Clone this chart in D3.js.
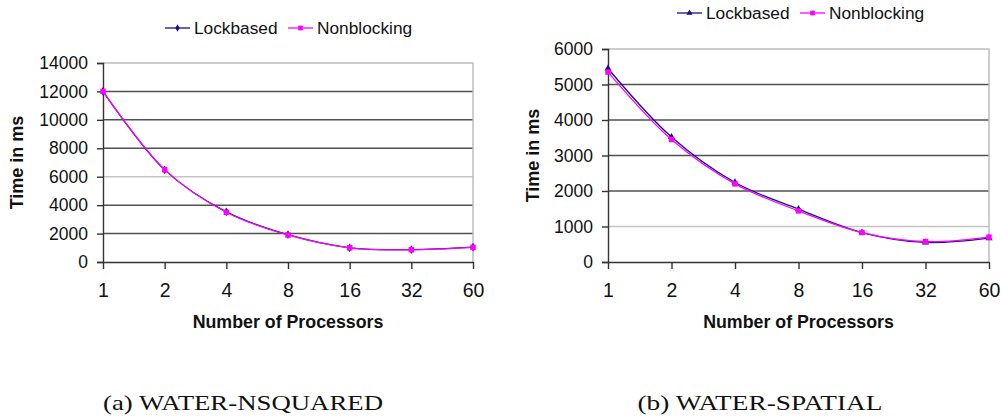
<!DOCTYPE html>
<html>
<head>
<meta charset="utf-8">
<script src="https://cdn.jsdelivr.net/npm/d3@7"></script>
<style>
  body { margin: 0; background: #fff; }
</style>
</head>
<body>
<svg id="fig" width="1002" height="418" font-family="Arial, 'Liberation Sans', sans-serif"></svg>
<script>
// processors (categories on the x axis)
const procs = ['1', '2', '4', '8', '16', '32', '60']

// (a) WATER-NSQUARED
const nsqLock = [12000, 6480, 3530, 1920, 1000, 870, 1040]
const nsqNonblock = [12000, 6500, 3500, 1900, 1000, 860, 1030]
const nsqTicks = [0, 2000, 4000, 6000, 8000, 10000, 12000, 14000]

// (b) WATER-SPATIAL
const spLock = [5450, 3520, 2240, 1490, 830, 550, 670]
const spNonblock = [5350, 3450, 2200, 1440, 830, 575, 700]
const spTicks = [0, 1000, 2000, 3000, 4000, 5000, 6000]

const seriesNames = ['Lockbased', 'Nonblocking']
const lockColor = '#10108a'
const nonColor = '#ff00ff'
const sans = 'Arial, "Liberation Sans", sans-serif'

let svg = d3.select('#fig')

let panel = function(opt) {
    let g = svg.append('g')
    let x = d3.scalePoint().domain(procs).range([opt.left, opt.right])
    let y = d3.scaleLinear().domain([0, opt.max]).range([opt.bottom, opt.top])

    // gridlines (some come out pale in the scan)
    g.append('g').selectAll('line')
        .data(opt.ticks.filter(d => d > 0 && d < opt.max))
        .join('line')
        .attr('x1', opt.left).attr('x2', opt.right)
        .attr('y1', d => y(d)).attr('y2', d => y(d))
        .attr('stroke', d => opt.light.includes(d) ? '#c4c4c4' : '#505050')
        .attr('stroke-width', 1.5)

    // frame top and right
    g.append('path')
        .attr('d', 'M' + opt.left + ',' + y(opt.max) + 'H' + opt.right + 'V' + opt.bottom)
        .attr('fill', 'none').attr('stroke', '#bdbdbd').attr('stroke-width', 1.5)

    // y axis
    let ya = g.append('g')
        .attr('transform', 'translate(' + opt.left + ',0)')
        .call(d3.axisLeft(y).tickValues(opt.ticks).tickSize(6).tickPadding(9).tickFormat(d3.format('d')))
    ya.select('.domain').attr('stroke', '#333').attr('stroke-width', 1.4)
    ya.selectAll('.tick line').attr('stroke', '#333').attr('stroke-width', 1.4)
    ya.selectAll('.tick text').attr('font-size', 17.5).attr('fill', '#111')
        .attr('font-family', sans)

    // x axis
    let xa = g.append('g')
        .attr('transform', 'translate(0,' + opt.bottom + ')')
        .call(d3.axisBottom(x).tickSize(7).tickPadding(14).tickSizeOuter(0))
    xa.select('.domain').attr('stroke', '#333').attr('stroke-width', 1.4)
    xa.selectAll('.tick line').attr('stroke', '#333').attr('stroke-width', 1.4)
    xa.selectAll('.tick text').attr('font-size', 19.5).attr('fill', '#111')
        .attr('font-family', sans)

    // axis titles
    g.append('text')
        .attr('transform', 'translate(' + opt.ylabX + ',' + ((opt.top + opt.bottom) / 2) + ') rotate(-90)')
        .attr('text-anchor', 'middle')
        .attr('font-size', 18).attr('font-weight', 'bold').attr('fill', '#111')
        .text('Time in ms')
    g.append('text')
        .attr('x', (opt.left + opt.right) / 2).attr('y', 328)
        .attr('text-anchor', 'middle')
        .attr('font-size', 17.8).attr('font-weight', 'bold').attr('fill', '#111')
        .text('Number of Processors')

    let line = d3.line()
        .x((d, i) => x(procs[i]))
        .y(d => y(d))
        .curve(d3.curveCatmullRom.alpha(0.5))

    let drawSeries = function(vals, color, shape) {
        let s = g.append('g')
        s.append('path').datum(vals)
            .attr('d', line)
            .attr('fill', 'none').attr('stroke', color).attr('stroke-width', 1.3)
        s.selectAll('path.mk').data(vals).join('path')
            .attr('class', 'mk')
            .attr('transform', (d, i) => 'translate(' + x(procs[i]) + ',' + y(d) + ')')
            .attr('d', d3.symbol().type(shape).size(shape === d3.symbolSquare ? 30 : 22))
            .attr('fill', color)
    }
    drawSeries(opt.lock, lockColor, opt.lockShape)
    drawSeries(opt.non, nonColor, d3.symbolSquare)

    // legend
    let lg = g.append('g').attr('transform', 'translate(' + opt.legX + ',' + opt.legY + ')')
    let items = [
        {name: seriesNames[0], color: lockColor, shape: opt.lockShape, w: 0},
        {name: seriesNames[1], color: nonColor, shape: d3.symbolSquare, w: opt.legGap}
    ]
    items.forEach(function(it) {
        let e = lg.append('g').attr('transform', 'translate(' + it.w + ',0)')
        e.append('line').attr('x1', 0).attr('x2', 25).attr('y1', 0).attr('y2', 0)
            .attr('stroke', it.color).attr('stroke-width', 1.3)
        e.append('path').attr('transform', 'translate(12.5,0)')
            .attr('d', d3.symbol().type(it.shape).size(it.shape === d3.symbolSquare ? 22 : 16))
            .attr('fill', it.color)
        e.append('text').attr('x', 29).attr('y', 6.3)
            .attr('font-size', 17.3).attr('fill', '#111')
            .text(it.name)
    })

    // caption
    svg.append('text')
        .attr('x', opt.capX).attr('y', 410)
        .attr('text-anchor', 'middle')
        .attr('font-family', '"Liberation Serif", "DejaVu Serif", serif')
        .attr('font-size', 21).attr('fill', '#111')
        .attr('textLength', opt.capW).attr('lengthAdjust', 'spacingAndGlyphs')
        .text(opt.caption)
}

panel({
    left: 103, right: 473, top: 63, bottom: 262, max: 14000,
    ticks: nsqTicks, light: [6000],
    lock: nsqLock, non: nsqNonblock, lockShape: d3.symbolDiamond,
    ylabX: 23, legX: 165, legY: 28, legGap: 123,
    capX: 243, capW: 280, caption: '(a) WATER-NSQUARED'
})

panel({
    left: 608, right: 989, top: 49, bottom: 262, max: 6000,
    ticks: spTicks, light: [1000],
    lock: spLock, non: spNonblock, lockShape: d3.symbolTriangle,
    ylabX: 539, legX: 677, legY: 13, legGap: 123,
    capX: 760, capW: 245, caption: '(b) WATER-SPATIAL'
})
</script>
</body>
</html>
